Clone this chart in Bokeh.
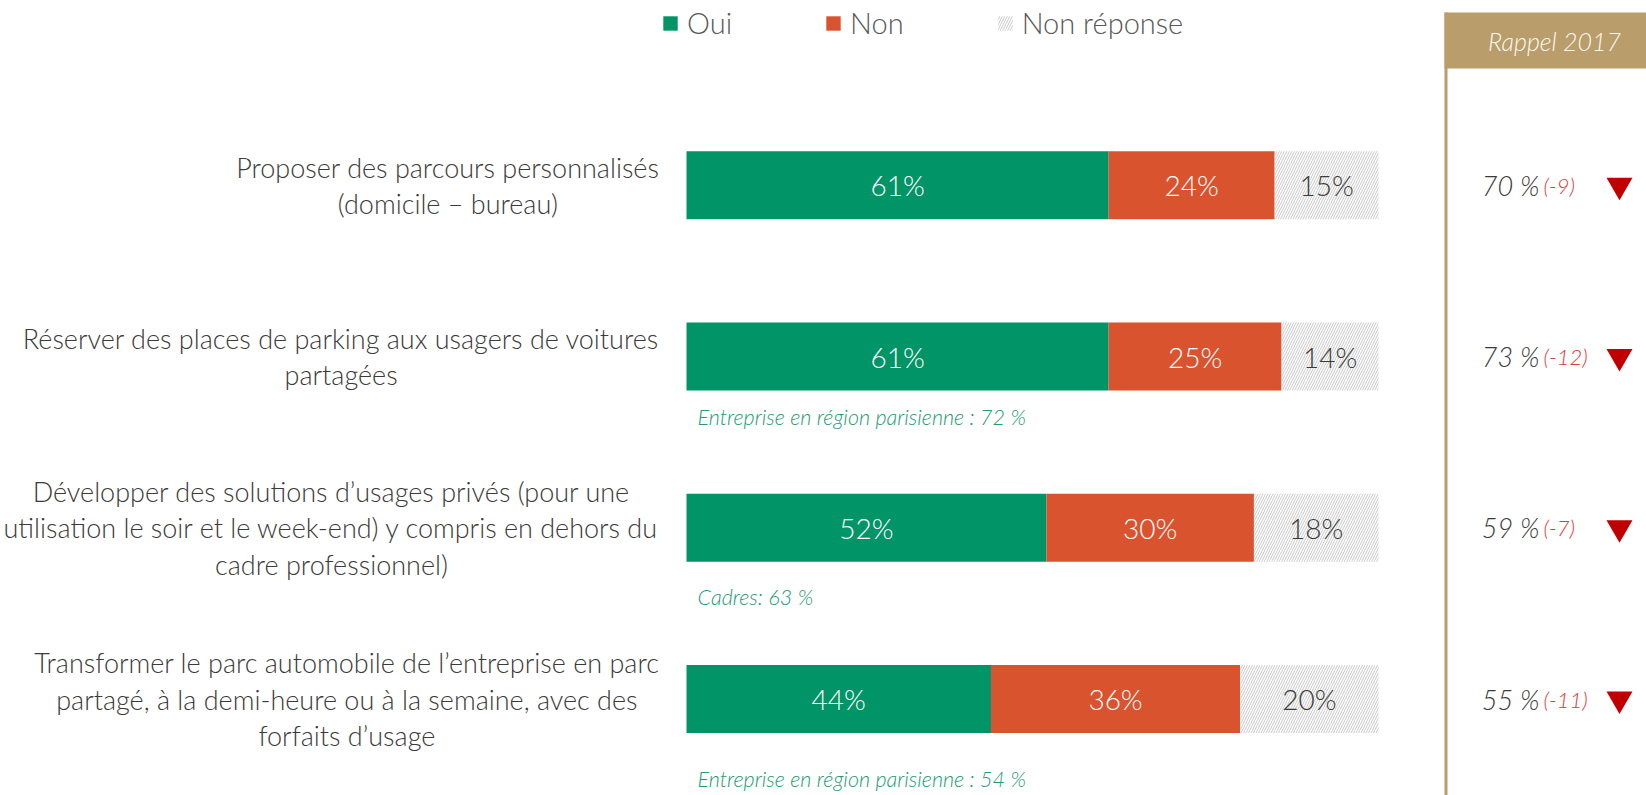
from bokeh.plotting import figure
from bokeh.models import ColumnDataSource, Range1d, Legend, LegendItem
from bokeh.core.properties import value
from bokeh.embed import file_html
from bokeh.resources import INLINE

# ---------------- data ----------------
categories = [
    "Proposer des parcours personnalisés\n(domicile – bureau)",
    "Réserver des places de parking aux usagers de voitures\npartagées",
    "Développer des solutions d’usages privés (pour une\nutilisation le soir et le week-end) y compris en dehors du\ncadre professionnel)",
    "Transformer le parc automobile de l’entreprise en parc\npartagé, à la demi-heure ou à la semaine, avec des\nforfaits d’usage",
]
oui = [61, 61, 52, 44]
non = [24, 25, 30, 36]
non_reponse = [15, 14, 18, 20]
rappel_2017 = [70, 73, 59, 55]
evolution = [-9, -12, -7, -11]
note_rows = [1, 2, 3]
note_texts = [
    "Entreprise en région parisienne : 72 %",
    "Cadres: 63 %",
    "Entreprise en région parisienne : 54 %",
]
series_names = ["Oui", "Non", "Non réponse"]
header_text = "Rappel 2017"

# ---------------- style / layout ----------------
GREEN = "#009466"
RED = "#D9532F"
TAN = "#B99D6B"
DARK = "#3A3A3A"
NOTE_GREEN = "#229C72"
FONT = "Lato Light, Lato"
W, H = 1646, 795
PX_PER_PCT = 6.92
X0 = 686.0
ROW0, PITCH = 184.7, 171.3
BAR_H = 0.397
note_dy = [0.356, 0.403, 0.467]


def px_x(px):
    return (px - X0) / PX_PER_PCT


def px_y(py):
    return (py - ROW0) / PITCH


rows = list(range(len(categories)))

x_range = Range1d(px_x(0), px_x(W))
y_range = Range1d(px_y(H), px_y(0))

p = figure(width=W, height=H, x_range=x_range, y_range=y_range,
           output_backend="svg", toolbar_location=None, min_border=0,
           x_axis_type=None, y_axis_type=None)
p.grid.visible = False
p.outline_line_color = None
p.background_fill_color = "white"

l1 = [0] * len(rows)
r1 = [o for o in oui]
l2 = r1
r2 = [a + b for a, b in zip(r1, non)]
l3 = r2
r3 = [a + b for a, b in zip(r2, non_reponse)]

src = ColumnDataSource(dict(
    y=rows, l1=l1, r1=r1, l2=l2, r2=r2, l3=l3, r3=r3,
    c1=[(a + b) / 2 for a, b in zip(l1, r1)],
    c2=[(a + b) / 2 for a, b in zip(l2, r2)],
    c3=[(a + b) / 2 for a, b in zip(l3, r3)],
    t1=[f"{v}%" for v in oui],
    t2=[f"{v}%" for v in non],
    t3=[f"{v}%" for v in non_reponse],
    cat=categories,
))

b1 = p.hbar(y="y", left="l1", right="r1", height=BAR_H, source=src,
            fill_color=GREEN, line_color=None)
b2 = p.hbar(y="y", left="l2", right="r2", height=BAR_H, source=src,
            fill_color=RED, line_color=None)
b3 = p.hbar(y="y", left="l3", right="r3", height=BAR_H, source=src,
            fill_color="white", line_color=None, hatch_pattern="/",
            hatch_color="#C8C8C8", hatch_scale=5, hatch_weight=1)

for cx, tx, col in (("c1", "t1", "white"), ("c2", "t2", "white"), ("c3", "t3", DARK)):
    p.text(x=cx, y="y", text=tx, source=src, text_color=col,
           text_font=value(FONT), text_font_size=value("28px"),
           text_align="center", text_baseline="middle")

# category labels (block right-aligned, lines centered)
p.text(x=px_x(659), y="y", text="cat", source=src, text_color=DARK,
       text_font=value(FONT), text_font_size=value("27px"),
       anchor="center_right", text_align="center", text_baseline="middle",
       text_line_height=1.1)

# notes
note_src = ColumnDataSource(dict(
    x=[px_x(697)] * len(note_rows),
    y=[r + d for r, d in zip(note_rows, note_dy)],
    text=note_texts,
))
p.text(x="x", y="y", text="text", source=note_src, text_color=NOTE_GREEN,
       text_font=value(FONT), text_font_size=value("21.5px"),
       text_font_style="italic", text_align="left", text_baseline="middle")

# right panel: header box and vertical rule
p.quad(left=[px_x(1444)], right=[px_x(W + 20)], top=[px_y(12)], bottom=[px_y(68)],
       fill_color=TAN, line_color=None)
p.quad(left=[px_x(1444)], right=[px_x(1447)], top=[px_y(12)], bottom=[px_y(H + 20)],
       fill_color=TAN, line_color=None)
p.text(x=[px_x(1554)], y=[px_y(40)], text=[header_text],
       text_color="#FBF8F1", text_font=value(FONT), text_font_size=value("25px"),
       text_font_style="italic", text_align="center", text_baseline="middle")

# right panel values
src_r = ColumnDataSource(dict(
    y=rows,
    rap=[f"{v} %" for v in rappel_2017],
    evo=[f"({v})" for v in evolution],
))
p.text(x=px_x(1539), y="y", text="rap", source=src_r, text_color=DARK,
       text_font=value(FONT), text_font_size=value("27px"), text_font_style="italic",
       text_align="right", text_baseline="middle")
p.text(x=px_x(1543), y="y", text="evo", source=src_r, text_color="#D93A3A",
       text_font=value(FONT), text_font_size=value("22px"), text_font_style="italic",
       text_align="left", text_baseline="middle")
p.scatter(x=px_x(1619), y="y", source=src_r, marker="inverted_triangle",
          size=26, fill_color="#C00000", line_color=None)

# legend
legend = Legend(items=[LegendItem(label=series_names[0], renderers=[b1]),
                       LegendItem(label=series_names[1], renderers=[b2]),
                       LegendItem(label=series_names[2], renderers=[b3])],
                orientation="horizontal", location=(661, H - 40),
                glyph_width=18, glyph_height=18, label_standoff=8, spacing=92,
                padding=0, margin=0, border_line_color=None,
                background_fill_alpha=0,
                label_text_font=FONT, label_text_font_size="29px",
                label_text_color="#595959", label_height=30)
p.add_layout(legend, "center")

open("out.html", "w").write(file_html(p, INLINE))
